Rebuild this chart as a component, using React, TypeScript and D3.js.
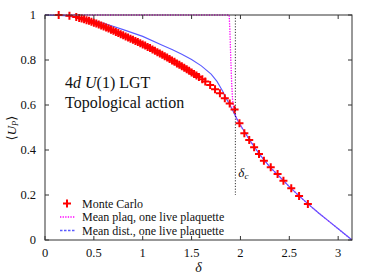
import React from 'react';
import * as d3 from 'd3';

// Monte Carlo points
const mcDelta = [
  0.14, 0.25, 0.32,
  0.350, 0.375, 0.400, 0.425, 0.450, 0.475, 0.500, 0.525, 0.550, 0.575, 0.600, 0.625,
  0.650, 0.675, 0.700, 0.725, 0.750, 0.775, 0.800, 0.825, 0.850, 0.875, 0.900, 0.925,
  0.950, 0.975, 1.000, 1.025, 1.050, 1.075, 1.100, 1.125, 1.150, 1.175, 1.200, 1.225,
  1.250, 1.275, 1.300, 1.325, 1.350, 1.375, 1.400, 1.425, 1.450, 1.475, 1.500, 1.525,
  1.550, 1.575,
  1.61, 1.64, 1.69, 1.74, 1.79, 1.84, 1.89, 1.94,
  1.99, 2.04, 2.09, 2.14, 2.19, 2.24, 2.31, 2.38, 2.44, 2.52, 2.60, 2.69,
];
const mcPlaq = [
  1.0, 0.997, 0.991,
  0.987, 0.984, 0.981, 0.977, 0.974, 0.970, 0.966, 0.962, 0.958, 0.953, 0.949, 0.945,
  0.940, 0.935, 0.930, 0.925, 0.920, 0.915, 0.910, 0.905, 0.900, 0.895, 0.890, 0.885,
  0.880, 0.874, 0.869, 0.864, 0.858, 0.853, 0.847, 0.841, 0.835, 0.829, 0.823, 0.817,
  0.811, 0.805, 0.798, 0.792, 0.785, 0.779, 0.772, 0.766, 0.759, 0.752, 0.745, 0.738,
  0.731, 0.724,
  0.714, 0.704, 0.689, 0.670, 0.652, 0.630, 0.607, 0.580,
  0.519, 0.474, 0.444, 0.412, 0.382, 0.352, 0.323, 0.293, 0.263, 0.230, 0.196, 0.160,
];

// mean distribution, one live plaquette (blue)
const distDelta = [0, 0.2, 0.4, 0.6, 0.8, 1.0, 1.2, 1.3, 1.4, 1.5, 1.6, 1.7, 1.76, 1.82, 1.86, 1.9, 1.96,
  2.0, 2.1, 2.2, 2.3, 2.4, 2.5, 2.6, 2.7, 2.8, 2.9, 3.0, Math.PI];
const distPlaq = [1.0, 0.997, 0.985, 0.963, 0.935, 0.905, 0.866, 0.847, 0.826, 0.802, 0.774, 0.737, 0.705,
  0.660, 0.625, 0.594, 0.541, 0.510, 0.440, 0.378, 0.325, 0.282, 0.237, 0.196, 0.157, 0.120, 0.085, 0.050, 0];

// mean plaquette, one live plaquette (magenta)
const plaqDelta = [0, 1.885, 1.893, 1.90, 1.91, 1.92, 1.93, 1.96, 2.0, 2.1, 2.2, 2.3, 2.4, 2.5, 2.6, 2.7, 2.8, 2.9, 3.0, Math.PI];
const plaqPlaq = [1.0, 1.0, 0.92, 0.82, 0.70, 0.62, 0.585, 0.541, 0.510, 0.440, 0.378, 0.325, 0.282, 0.237, 0.196, 0.157, 0.120, 0.085, 0.050, 0];

const deltaC = 1.948;

const xTicks = [0, 0.5, 1, 1.5, 2, 2.5, 3];
const yTicks = [0, 0.2, 0.4, 0.6, 0.8, 1];

const W = 374, H = 280;
const m = { left: 45, right: 22, top: 15, bottom: 40 };
const font = "'Liberation Serif', 'Times New Roman', Times, 'DejaVu Serif', serif";

export default function App() {
  const x = d3.scaleLinear().domain([0, Math.PI]).range([m.left, W - m.right]);
  const y = d3.scaleLinear().domain([0, 1]).range([H - m.bottom, m.top]);

  const line = d3.line<[number, number]>().x(d => x(d[0])).y(d => y(d[1]));
  const distPath = line(distDelta.map((d, i) => [d, distPlaq[i]]));
  const plaqPath = line(plaqDelta.map((d, i) => [d, plaqPlaq[i]]));

  const x0 = m.left, x1 = W - m.right, y0 = H - m.bottom, y1 = m.top;
  const tick = 4;
  const frame = '#333';
  const plus = 'M-4,0H4M0,-4V4';
  const legendRows = [207.5, 221, 234.5];

  return (
    <svg width={W} height={H} style={{ position: 'absolute', left: 0, top: 0 }}>
      <rect width={W} height={H} fill="#fff" />

      {/* curves */}
      <path d={plaqPath ?? ''} fill="none" stroke="#ff00ff" strokeWidth={1.3} strokeDasharray="1.3,1.3" />
      <path d={distPath ?? ''} fill="none" stroke="#5a5aff" strokeWidth={1.1} />

      {mcDelta.map((d, i) => (
        <path key={i} d={plus} transform={`translate(${x(d)},${y(mcPlaq[i])})`} stroke="#ff0000" strokeWidth={2} fill="none" />
      ))}

      <g fontFamily={font} fill="#111">
        {/* delta_c marker */}
        <line x1={x(deltaC)} x2={x(deltaC)} y1={y(1)} y2={y(0.2)} stroke="#000" strokeWidth={0.8} strokeDasharray="1.2,1.6" />
        <text x={x(deltaC) + 3} y={177} fontSize={13} fontStyle="italic">δ<tspan fontSize={9} dy={2}>c</tspan></text>

        {/* frame and ticks */}
        <rect x={x0} y={y1} width={x1 - x0} height={y0 - y1} fill="none" stroke={frame} strokeWidth={1} />
        {xTicks.map(t => (
          <g key={`x${t}`}>
            <line x1={x(t)} x2={x(t)} y1={y0} y2={y0 - tick} stroke={frame} />
            <line x1={x(t)} x2={x(t)} y1={y1} y2={y1 + tick} stroke={frame} />
            <text x={x(t)} y={y0 + 17} fontSize={12.5} textAnchor="middle">{t}</text>
          </g>
        ))}
        {yTicks.map(t => (
          <g key={`y${t}`}>
            <line x1={x0} x2={x0 + tick} y1={y(t)} y2={y(t)} stroke={frame} />
            <line x1={x1} x2={x1 - tick} y1={y(t)} y2={y(t)} stroke={frame} />
            <text x={x0 - 9} y={y(t) + 4} fontSize={12.5} textAnchor="end">{t}</text>
          </g>
        ))}

        {/* axis labels */}
        <text x={(x0 + x1) / 2} y={272} fontSize={14} fontStyle="italic" textAnchor="middle">δ</text>
        <text transform="translate(16,128) rotate(-90)" fontSize={13} textAnchor="middle">
          ⟨<tspan fontStyle="italic">U</tspan><tspan fontSize={8.5} fontStyle="italic" dy={2}>P</tspan><tspan dy={-2}>⟩</tspan>
        </text>

        {/* annotation */}
        <text x={65} y={88} fontSize={16}>
          4<tspan fontStyle="italic">d U</tspan>(1) LGT
        </text>
        <text x={65} y={108} fontSize={16}>Topological action</text>

        {/* legend */}
        <path d={plus} transform={`translate(67,${legendRows[0] - 4})`} stroke="#ff0000" strokeWidth={2} fill="none" />
        <text x={82} y={legendRows[0]} fontSize={12}>Monte Carlo</text>
        <line x1={60} x2={75} y1={legendRows[1] - 4} y2={legendRows[1] - 4} stroke="#ff00ff" strokeWidth={1.3} strokeDasharray="1.3,1.3" />
        <text x={82} y={legendRows[1]} fontSize={12}>Mean plaq, one live plaquette</text>
        <line x1={60} x2={75} y1={legendRows[2] - 4} y2={legendRows[2] - 4} stroke="#5a5aff" strokeWidth={1.3} strokeDasharray="2.5,1.5" />
        <text x={82} y={legendRows[2]} fontSize={12}>Mean dist., one live plaquette</text>
      </g>
    </svg>
  );
}
